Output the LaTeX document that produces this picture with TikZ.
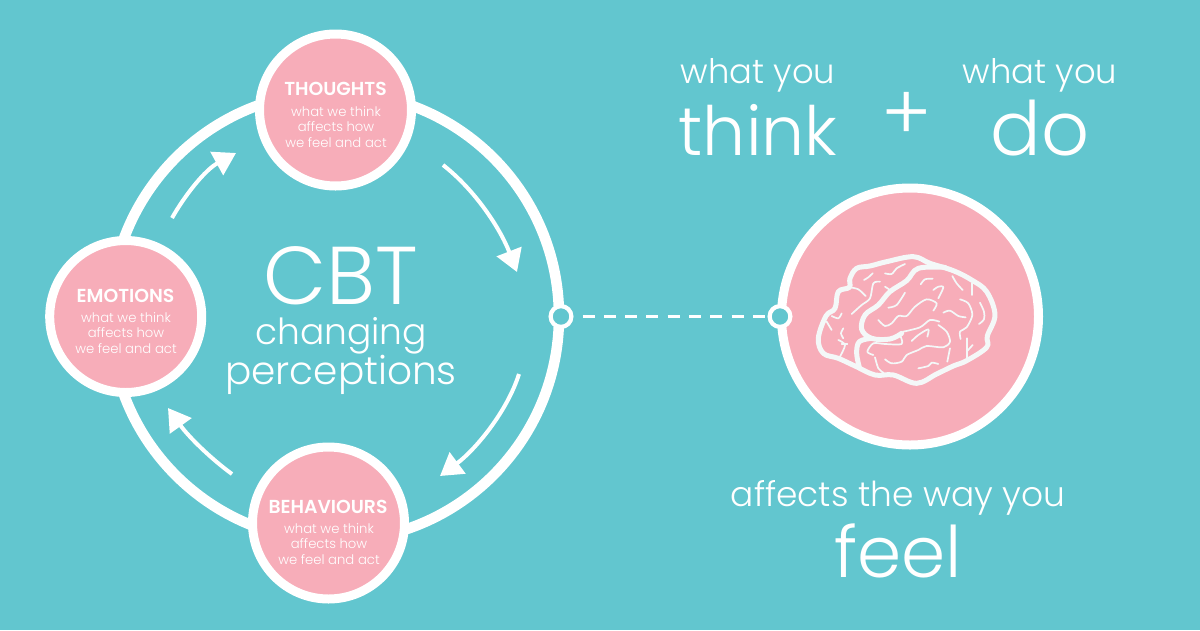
\documentclass[tikz,border=0pt]{standalone}
\usepackage{fontspec}
\setmainfont{Poppins Light}
\newfontfamily\boldface{Poppins SemiBold}
\usetikzlibrary{arrows.meta}
\definecolor{teal}{HTML}{62C6CF}
\definecolor{rose}{HTML}{F7ADB9}
\definecolor{brainline}{HTML}{F4F8F8}
\tikzset{
  x=1pt,y=-1pt,
  stage/.style={circle,draw=white,line width=9pt,fill=rose,minimum size=152pt,inner sep=0pt},
  joint/.style={circle,draw=white,line width=4.2pt,fill=teal,minimum size=20.8pt,inner sep=0pt},
  flow/.style={white,line width=4pt,-{Triangle[length=22pt,width=26pt]}},
  headline/.style={white,font=\fontsize{18.8}{20}\boldface,inner sep=0pt,anchor=base},
  small/.style={white,font=\fontsize{13.2}{15.8}\selectfont,align=center,inner sep=0pt},
  word/.style={white,inner sep=0pt,anchor=base},
  fold/.style={brainline,line width=1.7pt,line cap=round,line join=round},
  lobe/.style={brainline,line width=5pt,line cap=round,line join=round},
}
\newcommand{\pts}[1]{\fontsize{#1}{#1}\selectfont}
\begin{document}
\begin{tikzpicture}
\useasboundingbox (0,0) rectangle (1200,630);
\fill[teal] (0,0) rectangle (1200,630);

% outer cycle
\coordinate (hub) at (334.5,316.5);
\draw[white,line width=10.5pt] (hub) circle[radius=224.5];

% stages on the cycle
\node[stage] (thoughts) at (335.5,110) {};
\node[stage] (emotions) at (125.7,316.5) {};
\node[stage] (behaviours) at (328.5,523) {};
\node[headline] at (335.5,95.5) {THOUGHTS};
\node[small] at (336,127) {what we think\\affects how\\we feel and act};
\node[headline] at (125.5,302.5) {EMOTIONS};
\node[small] at (126,333) {what we think\\affects how\\we feel and act};
\node[headline] at (328,513) {BEHAVIOURS};
\node[small] at (329,544) {what we think\\affects how\\we feel and act};

% direction arrows
\coordinate (a1) at (443,165); \coordinate (a2) at (517,272);
\coordinate (b1) at (519,374); \coordinate (b2) at (440,476);
\coordinate (c1) at (232,474); \coordinate (c2) at (168,408);
\coordinate (d1) at (172,218); \coordinate (d2) at (236,153);
\draw[flow] (a1) .. controls (475,190) and (500,228) .. (a2);
\draw[flow] (b1) .. controls (507,412) and (475,450) .. (b2);
\draw[flow] (c1) .. controls (210,458) and (188,436) .. (c2);
\draw[flow] (d1) .. controls (185,195) and (205,170) .. (d2);

% centre title
\node[word,font=\pts{82}] at (341,304) {CBT};
\node[white,inner sep=0pt,align=center] at (341,356) {\pts{36}changing\\\pts{39}perceptions};

% large circle with the brain
\node[circle,draw=white,line width=9pt,fill=rose,minimum size=257pt,inner sep=0pt] (mind) at (910,316.5) {};

\node[joint] (left) at (561,316.5) {};
\node[joint] (right) at (780,316.5) {};
\draw[white,line width=3pt,dash pattern=on 12pt off 9.3pt] (left.east) ++(9,0) -- (right.west);

% right-hand text
\node[word,font=\pts{33.8}] at (758,83) {what you};
\node[word,font=\pts{68}] at (758,155) {think};
\node[white,inner sep=0pt,font=\pts{77}] at (907,116) {+};
\node[word,font=\pts{33.8}] at (1040,83) {what you};
\node[word,font=\pts{75}] at (1040,155) {do};
\node[word,font=\pts{34.4}] at (898,506) {affects the way you};
\node[word,font=\pts{71}] at (898,577) {feel};

% brain
\begin{scope}[shift={(790,240)},x=0.3333pt,y=-0.3333pt]
\draw[lobe] plot[smooth cycle,tension=0.6] coordinates {
 (200,85)(180,115)(178,142)(145,155)(135,205)(108,228)(85,295)(100,340)(145,355)(195,378)
 (255,405)(310,405)(380,430)(440,402)(490,378)(530,362)(590,322)(592,288)(615,225)(590,155)
 (545,120)(490,92)(420,70)(370,50)(290,65)(240,78)};
\draw[lobe] plot[smooth,tension=0.6] coordinates {(465,82)(385,85)(350,122)(300,155)(265,195)(225,225)(215,268)(245,295)(300,297)(335,280)};
\draw[lobe] plot[smooth,tension=0.6] coordinates {(245,295)(208,305)(200,340)(208,382)};

\draw[fold] plot[smooth] coordinates {(265,240)(285,258)(305,250)(325,228)(350,228)(375,200)(410,178)(440,190)(430,212)};
\draw[fold] plot[smooth] coordinates {(295,203)(320,195)(345,158)};
\draw[fold] plot[smooth] coordinates {(430,150)(445,140)(460,142)(445,175)};
\draw[fold] plot[smooth] coordinates {(392,133)(405,118)(428,116)};
\draw[fold] plot[smooth] coordinates {(340,275)(390,262)(420,240)(448,245)};
\draw[fold] plot[smooth] coordinates {(460,218)(480,212)(505,228)(527,232)};
\draw[fold] plot[smooth] coordinates {(487,108)(500,130)(518,150)};
\draw[fold] plot[smooth] coordinates {(510,178)(535,190)(547,225)(530,262)(510,275)(512,297)};
\draw[fold] plot[smooth] coordinates {(545,130)(545,165)};
\draw[fold] plot[smooth] coordinates {(570,188)(582,215)(582,238)(567,252)};
\draw[fold] plot[smooth] coordinates {(530,295)(530,355)};
\draw[fold] plot[smooth] coordinates {(530,335)(548,315)};
\draw[fold] plot[smooth] coordinates {(365,303)(385,285)(415,268)(412,290)};
\draw[fold] plot[smooth] coordinates {(330,285)(335,312)(285,312)(250,310)(232,335)(250,345)};
\draw[fold] plot[smooth] coordinates {(255,352)(265,385)(280,398)};
\draw[fold] plot[smooth] coordinates {(285,358)(305,370)(335,365)(350,345)(385,330)(410,318)(460,322)(480,305)(470,275)(445,255)};
\draw[fold] plot[smooth] coordinates {(480,325)(472,365)};
\draw[fold] plot[smooth] coordinates {(385,385)(415,378)(425,368)(445,372)};
\draw[fold] plot[smooth] coordinates {(180,142)(205,148)(227,168)};
\draw[fold] plot[smooth] coordinates {(185,222)(215,195)(240,175)(250,130)(270,125)};
\draw[fold] plot[smooth] coordinates {(285,140)(308,155)};
\draw[fold] plot[smooth] coordinates {(222,120)(235,112)(248,100)};
\draw[fold] plot[smooth] coordinates {(285,100)(305,102)(320,85)(345,72)};
\draw[fold] plot[smooth] coordinates {(110,245)(125,270)};
\draw[fold] plot[smooth] coordinates {(125,228)(145,235)(155,220)};
\draw[fold] plot[smooth] coordinates {(160,265)(153,280)(160,295)};
\draw[fold] plot[smooth] coordinates {(145,300)(165,315)(150,350)};
\draw[fold] plot[smooth] coordinates {(155,312)(172,312)};
\end{scope}
\end{tikzpicture}
\end{document}
